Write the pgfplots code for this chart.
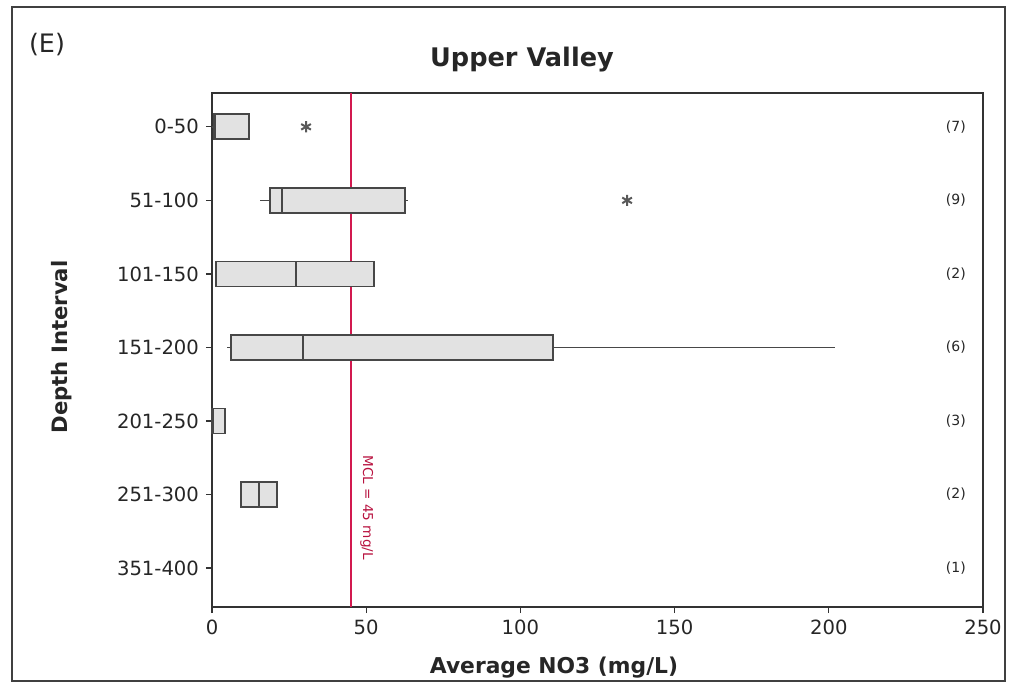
\documentclass[border=0pt]{standalone}
\usepackage{pgfplots}
\pgfplotsset{compat=1.18}
\usepgfplotslibrary{statistics}
\usepackage{fontspec}
\setmainfont{DejaVu Sans}
\definecolor{mcl}{HTML}{D2194F}
\definecolor{mcltext}{HTML}{B8123F}
\definecolor{boxfill}{HTML}{E2E2E2}
\definecolor{boxline}{HTML}{474747}
\begin{document}
\begin{tikzpicture}
\useasboundingbox (0,0) rectangle (509pt,345.5pt);
\draw[black!75, line width=0.8pt] (6pt,342pt) rectangle (502.5pt,5pt);
\node[font=\fontsize{12.7}{14}\selectfont, text=black!85] at (23.5pt,323pt) {(E)};
\node[font=\fontsize{12.8}{15}\selectfont\bfseries, text=black!85] at (261pt,315.5pt) {Upper Valley};
\node[font=\fontsize{10.9}{13}\selectfont\bfseries, text=black!85] at (277pt,11.5pt) {Average NO3 (mg/L)};
\node[font=\fontsize{10.6}{13}\selectfont\bfseries, text=black!85, rotate=90] at (31pt,172pt) {Depth Interval};
\begin{axis}[
  at={(106pt,42pt)}, anchor=south west,
  scale only axis, width=385.5pt, height=257pt,
  xmin=0, xmax=250, ymin=-0.46, ymax=6.53, y dir=reverse,
  xtick={0,50,100,150,200,250},
  ytick={0,1,2,3,4,5,6},
  yticklabels={0-50,51-100,101-150,151-200,201-250,251-300,351-400},
  tick align=outside, tick pos=left, major tick length=3pt,
  axis line style={black!80, line width=0.7pt},
  every tick/.style={black!80, line width=0.6pt},
  tick label style={font=\fontsize{9.8}{12}\selectfont, text=black!85},
  /pgf/number format/assume math mode=true,
  clip=false,
  boxplot/draw direction=x,
  boxplot/box extend=0.34,
  boxplot/whisker extend=0,
  mybox/.style={fill=boxfill, draw=boxline, line width=0.9pt, mark=asterisk, mark size=2.8pt,
    mark options={draw=gray!70!black, fill=gray, line width=1pt},
    boxplot/every whisker/.style={draw=boxline, line width=0.7pt},
    boxplot/every median/.style={draw=boxline, line width=1pt}},
]
\addplot[mcl, line width=1pt, forget plot] coordinates {(45,-0.46) (45,6.53)};
\addplot[mybox, boxplot prepared={draw position=0, lower whisker=0, lower quartile=0.5, median=1.0, upper quartile=12, upper whisker=12}] table[row sep=\\, y index=0] {30.5\\};
\addplot[mybox, boxplot prepared={draw position=1, lower whisker=15.6, lower quartile=18.8, median=22.6, upper quartile=62.7, upper whisker=63.5}] table[row sep=\\, y index=0] {134.6\\};
\addplot[mybox, boxplot prepared={draw position=2, lower whisker=1.3, lower quartile=1.3, median=27.2, upper quartile=52.6, upper whisker=52.6}] coordinates {};
\addplot[mybox, boxplot prepared={draw position=3, lower whisker=4.8, lower quartile=6.2, median=29.4, upper quartile=110.7, upper whisker=202}] coordinates {};
\addplot[mybox, boxplot prepared={draw position=4, lower whisker=0, lower quartile=0, median=0.4, upper quartile=4.3, upper whisker=4.3}] coordinates {};
\addplot[mybox, boxplot prepared={draw position=5, lower whisker=9.3, lower quartile=9.3, median=15.3, upper quartile=21.0, upper whisker=21.0}] coordinates {};
\node[font=\fontsize{7}{8}\selectfont, text=black!85] at (axis cs:241.2,0) {(7)};
\node[font=\fontsize{7}{8}\selectfont, text=black!85] at (axis cs:241.2,1) {(9)};
\node[font=\fontsize{7}{8}\selectfont, text=black!85] at (axis cs:241.2,2) {(2)};
\node[font=\fontsize{7}{8}\selectfont, text=black!85] at (axis cs:241.2,3) {(6)};
\node[font=\fontsize{7}{8}\selectfont, text=black!85] at (axis cs:241.2,4) {(3)};
\node[font=\fontsize{7}{8}\selectfont, text=black!85] at (axis cs:241.2,5) {(2)};
\node[font=\fontsize{7}{8}\selectfont, text=black!85] at (axis cs:241.2,6) {(1)};
\node[font=\fontsize{6.8}{8}\selectfont, text=mcltext, rotate=-90] at (axis cs:50.2,5.18) {MCL = 45 mg/L};
\end{axis}
\end{tikzpicture}
\end{document}
